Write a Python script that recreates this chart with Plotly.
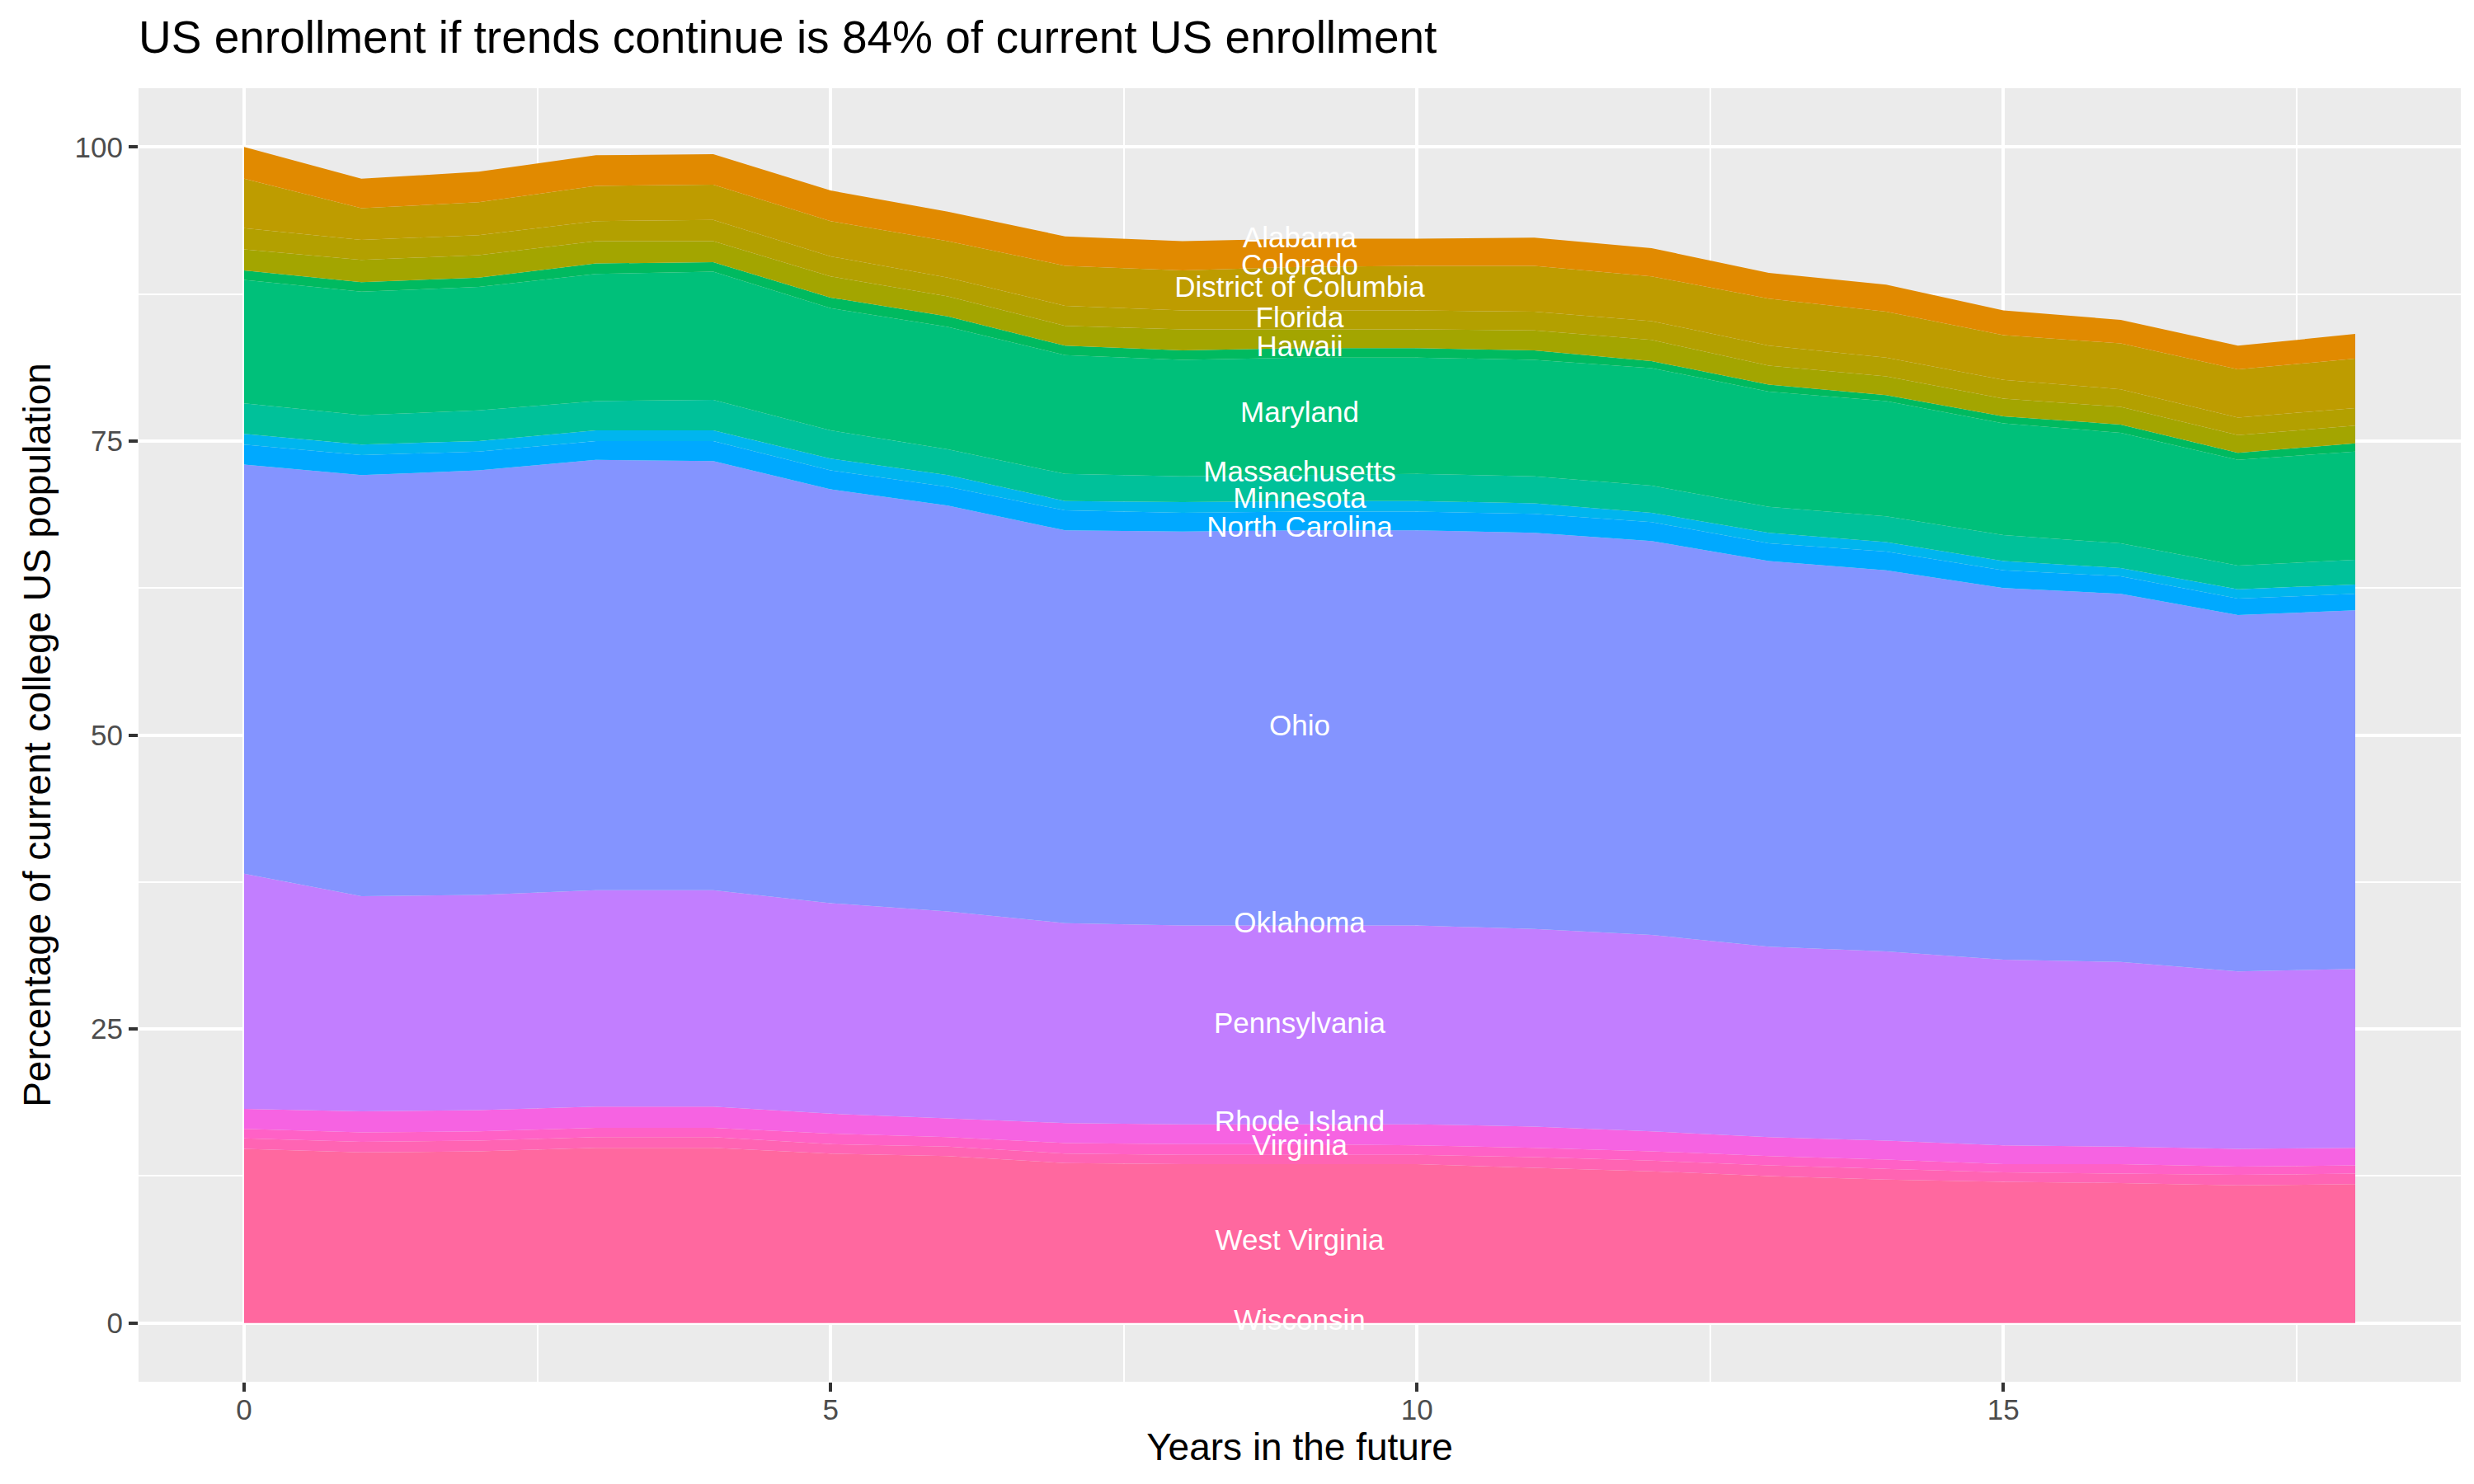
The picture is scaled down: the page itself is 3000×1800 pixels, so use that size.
import plotly.graph_objects as go

years = list(range(19))

# band thickness per state (percentage points); first state sits on top of the stack
states = ["Alabama", "Colorado", "District of Columbia", "Florida", "Hawaii",
          "Maryland", "Massachusetts", "Minnesota", "North Carolina", "Ohio",
          "Oklahoma", "Pennsylvania", "Rhode Island", "Virginia", "West Virginia",
          "Wisconsin"]

alabama = [2.7, 2.5, 2.6, 2.6, 2.6, 2.6, 2.5, 2.5, 2.5, 2.4, 2.3, 2.4, 2.4, 2.2, 2.3, 2.1, 2.0, 2.0, 2.1]
colorado = [4.2, 2.7, 2.8, 3.0, 3.0, 3.0, 3.1, 3.4, 3.4, 3.7, 3.8, 3.9, 3.8, 4.0, 3.9, 3.8, 3.9, 4.1, 4.2]
dc = [1.8, 1.7, 1.7, 1.7, 1.8, 1.7, 1.6, 1.7, 1.6, 1.6, 1.6, 1.6, 1.6, 1.7, 1.6, 1.6, 1.5, 1.5, 1.5]
florida = [1.8, 1.9, 1.9, 1.9, 1.8, 1.8, 1.7, 1.7, 1.8, 1.6, 1.6, 1.7, 1.8, 1.6, 1.6, 1.5, 1.5, 1.5, 1.5]
hawaii = [0.8, 0.8, 0.8, 0.9, 0.8, 0.9, 0.9, 0.8, 0.8, 0.8, 0.8, 0.8, 0.6, 0.6, 0.5, 0.6, 0.7, 0.6, 0.7]
maryland = [10.5, 10.5, 10.5, 10.8, 10.9, 10.4, 10.4, 10.1, 9.9, 10.0, 9.9, 9.9, 10.0, 9.8, 9.8, 9.5, 9.4, 9.0, 9.2]
massachusetts = [2.6, 2.5, 2.6, 2.5, 2.6, 2.4, 2.2, 2.3, 2.2, 2.2, 2.3, 2.3, 2.3, 2.2, 2.2, 2.2, 2.1, 2.0, 2.1]
minnesota = [0.9, 0.9, 0.9, 0.9, 0.9, 1.0, 1.0, 0.8, 0.9, 0.9, 0.9, 0.9, 0.8, 0.9, 0.8, 0.8, 0.7, 0.8, 0.8]
north_carolina = [1.7, 1.7, 1.6, 1.6, 1.7, 1.6, 1.6, 1.7, 1.6, 1.6, 1.6, 1.6, 1.6, 1.5, 1.6, 1.5, 1.5, 1.4, 1.4]
ohio = [34.8, 35.8, 36.1, 36.6, 36.5, 35.2, 34.5, 33.4, 33.5, 33.6, 33.6, 33.7, 33.5, 32.8, 32.4, 31.6, 31.3, 30.3, 30.5]
oklahoma = [0.0] * 19
pennsylvania = [20.0, 18.3, 18.3, 18.4, 18.4, 17.9, 17.6, 17.0, 16.9, 16.9, 16.9, 16.8, 16.7, 16.2, 16.1, 15.8, 15.7, 15.1, 15.2]
rhode_island = [1.7, 1.8, 1.8, 1.8, 1.8, 1.7, 1.6, 1.7, 1.7, 1.7, 1.8, 1.8, 1.7, 1.6, 1.6, 1.6, 1.5, 1.5, 1.5]
virginia = [0.8, 0.8, 0.8, 0.8, 0.8, 0.9, 0.8, 0.9, 0.9, 0.9, 0.8, 0.8, 0.8, 0.8, 0.8, 0.7, 0.8, 0.7, 0.7]
west_virginia = [0.9, 0.9, 0.9, 0.9, 0.9, 0.8, 0.8, 0.8, 0.8, 0.8, 0.8, 0.9, 0.9, 0.9, 0.9, 0.8, 0.8, 0.9, 0.9]
wisconsin = [14.8, 14.5, 14.6, 14.9, 14.9, 14.4, 14.2, 13.6, 13.5, 13.5, 13.5, 13.2, 12.9, 12.5, 12.2, 12.0, 11.9, 11.7, 11.8]

values = [alabama, colorado, dc, florida, hawaii, maryland, massachusetts,
          minnesota, north_carolina, ohio, oklahoma, pennsylvania, rhode_island,
          virginia, west_virginia, wisconsin]

colors = ["#E18A00", "#BE9C00", "#B3A000", "#A3A500", "#00BA60", "#00C07A",
          "#00C19A", "#00B5EE", "#00A9FF", "#8494FF", "#9590FF", "#C27EFF",
          "#F663E2", "#FF61C6", "#FF64B3", "#FF689F"]

# label positions (y) at year 9
label_x = 9
label_y = [92.1, 89.8, 87.9, 85.3, 82.8, 77.2, 72.2, 69.9, 67.5, 50.6, 33.8,
           25.3, 16.9, 14.9, 6.8, 0.0]

FONT = "Liberation Sans, Arial, Helvetica, sans-serif"

fig = go.Figure()

# stack from the bottom (last state) upward
for name, vals, col in reversed(list(zip(states, values, colors))):
    fig.add_trace(go.Scatter(
        x=years, y=vals, name=name, stackgroup="one", mode="lines",
        line=dict(width=0, color=col), fillcolor=col, hoverinfo="x+y+name"
    ))

fig.add_trace(go.Scatter(
    x=[label_x] * len(states), y=label_y, text=states, mode="text",
    textposition="middle center", textfont=dict(color="white", size=35, family=FONT),
    hoverinfo="skip", cliponaxis=False
))

axis_common = dict(
    showgrid=True, gridcolor="white", gridwidth=4.4, zeroline=False,
    ticks="outside", ticklen=11, tickwidth=4.4, tickcolor="#333333",
    tickfont=dict(size=35, color="#4D4D4D", family=FONT),
    showline=False,
)

fig.update_layout(
    width=3000, height=1800,
    paper_bgcolor="white", plot_bgcolor="#EBEBEB",
    showlegend=False,
    margin=dict(l=160, r=24, t=99, b=132),
    font=dict(family=FONT, color="black"),
    title=dict(text="US enrollment if trends continue is 84% of current US enrollment",
               font=dict(size=55, color="black", family=FONT),
               x=160 / 3000, xref="container", xanchor="left",
               y=1 - 37 / 1800, yref="container", yanchor="middle"),
    xaxis=dict(range=[-0.9, 18.9], tickvals=[0, 5, 10, 15], ticklabelstandoff=-8,
               minor=dict(tickvals=[2.5, 7.5, 12.5, 17.5], showgrid=True,
                          gridcolor="white", gridwidth=2.2, ticks=""),
               title=dict(text="Years in the future", font=dict(size=46, color="black"),
                          standoff=4),
               **axis_common),
    yaxis=dict(range=[-5, 105], tickvals=[0, 25, 50, 75, 100],
               minor=dict(tickvals=[12.5, 37.5, 62.5, 87.5], showgrid=True,
                          gridcolor="white", gridwidth=2.2, ticks=""),
               title=dict(text="Percentage of current college US population",
                          font=dict(size=46, color="black"), standoff=14),
               **axis_common),
)

fig.write_html("out.html")
